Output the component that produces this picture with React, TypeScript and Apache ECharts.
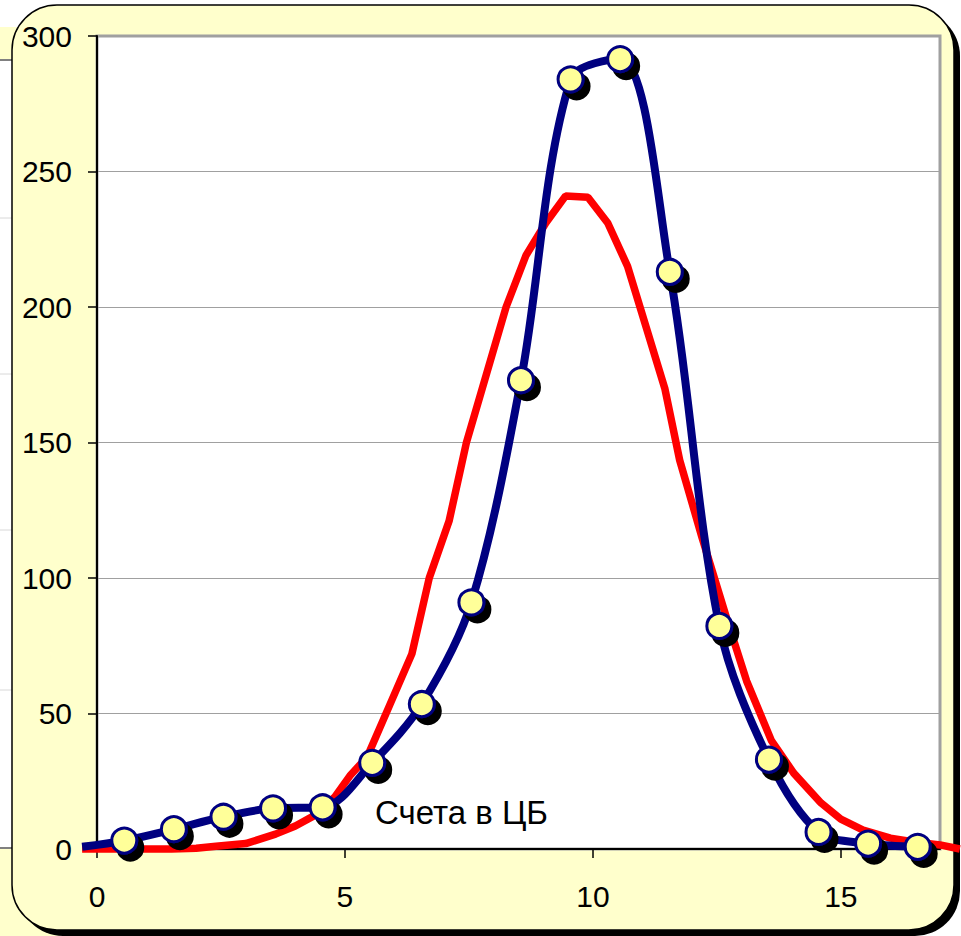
import React, { useEffect, useRef } from "react";
import * as echarts from "echarts";

// Blue series (observed), x positions of markers and values
const blueX = [-0.3, 0.55, 1.55, 2.55, 3.55, 4.55, 5.55, 6.55, 7.55, 8.55, 9.55, 10.55, 11.55, 12.55, 13.55, 14.55, 15.55, 16.55];
const blueY = [0.8, 3.1, 7.3, 11.9, 15.0, 15.4, 31.8, 53.5, 91.0, 173.0, 284.0, 291.5, 213.0, 82.3, 33.0, 6.3, 2.0, 0.8];

// Red series (fitted curve)
const redX = [-0.3, 0.5, 1.5, 2.0, 2.4, 3.0, 3.6, 4.0, 4.4, 4.8, 5.1, 5.45, 5.9, 6.35, 6.7, 7.1, 7.45, 7.85, 8.25, 8.65, 9.05, 9.45, 9.9, 10.3, 10.7, 11.1, 11.45, 11.75, 12.2, 12.7, 13.1, 13.6, 14.05, 14.6, 15.0, 15.45, 16.0, 16.45, 17.0, 17.4];
const redY = [0, 0, 0, 0.3, 1.0, 2.0, 5.5, 8.5, 12.5, 19.3, 27, 34, 53, 72, 100, 121, 150, 175, 200, 219, 231, 241, 240.5, 231, 215, 191, 170, 143.5, 115, 85, 62, 40, 28, 17, 11, 7, 4, 2.7, 1.5, 0];

const xTicks = [0, 5, 10, 15];
const annotation = "Счета в ЦБ";

const FONT = "'Liberation Sans', Arial, sans-serif";

// axis extents
const X_MIN = 0;
const X_MAX = 17;
const X_MIN_EXT = -0.3; // lines run slightly past the plot edges
const X_MAX_EXT = 17.4;

// layout
const W = 961;
const PLOT_L = 97;
const PLOT_R = 940;
const PLOT_T = 36;
const PLOT_B = 849;

export default function App() {
  const ref = useRef<HTMLDivElement>(null);
  useEffect(() => {
    if (!ref.current) return;
    const chart = echarts.init(ref.current, null, { renderer: "svg" });
    const pxPerUnit = (PLOT_R - PLOT_L) / (X_MAX - X_MIN);
    const extLeft = PLOT_L - (X_MIN - X_MIN_EXT) * pxPerUnit;
    const extRight = PLOT_R + (X_MAX_EXT - X_MAX) * pxPerUnit;

    const blueData = blueX.map((x, i) =>
      i === 0 ? { value: [x, blueY[i]], symbol: "none" } : { value: [x, blueY[i]] }
    );
    const redData = redX.map((x, i) => [x, redY[i]]);
    chart.setOption({
      animation: false,
      backgroundColor: "#ffffff",
      textStyle: { fontFamily: FONT },
      graphic: [
        // remnants of the underlying slide at the far left
        { type: "rect", z: -30, shape: { x: 0, y: 27, width: 60, height: 33 }, style: { fill: "#FFFFCC" } },
        { type: "line", z: -29, shape: { x1: 0, y1: 60, x2: 60, y2: 60 }, style: { stroke: "#808080", lineWidth: 2 } },
        { type: "line", z: -29, shape: { x1: 0, y1: 218, x2: 60, y2: 218 }, style: { stroke: "#d8d8d8", lineWidth: 1 } },
        { type: "line", z: -29, shape: { x1: 0, y1: 374, x2: 60, y2: 374 }, style: { stroke: "#d8d8d8", lineWidth: 1 } },
        { type: "line", z: -29, shape: { x1: 0, y1: 530, x2: 60, y2: 530 }, style: { stroke: "#d8d8d8", lineWidth: 1 } },
        { type: "line", z: -29, shape: { x1: 0, y1: 690, x2: 60, y2: 690 }, style: { stroke: "#d8d8d8", lineWidth: 1 } },
        { type: "rect", z: -30, shape: { x: 0, y: 848, width: 60, height: 88 }, style: { fill: "#FFFFCC" } },
        { type: "line", z: -29, shape: { x1: 0, y1: 848, x2: 60, y2: 848 }, style: { stroke: "#808080", lineWidth: 2 } },
        // main rounded panel with shadow
        { type: "rect", z: -20, shape: { x: 18, y: 11, width: 942, height: 925, r: 45 }, style: { fill: "#000000" } },
        { type: "rect", z: -19, shape: { x: 12, y: 5, width: 942, height: 925, r: 45 }, style: { fill: "#FFFFCC", stroke: "#000000", lineWidth: 1.5 } },
        {
          type: "text",
          z: 100,
          x: 375,
          y: 812,
          style: { text: annotation, fill: "#000000", font: `33px ${FONT}`, verticalAlign: "middle", align: "left" },
        },
      ],
      grid: [
        {
          left: PLOT_L,
          top: PLOT_T,
          width: PLOT_R - PLOT_L,
          height: PLOT_B - PLOT_T,
          show: true,
          backgroundColor: "#ffffff",
          borderColor: "#a0a0a0",
          borderWidth: 3,
        },
        {
          left: extLeft,
          top: PLOT_T,
          width: extRight - extLeft,
          height: PLOT_B - PLOT_T,
          show: false,
        },
      ],
      xAxis: [
        {
          gridIndex: 0,
          type: "value",
          min: X_MIN,
          max: X_MAX,
          interval: 5,
          axisLine: { show: true, onZero: false, lineStyle: { color: "#000", width: 2 } },
          axisTick: { show: true, length: 9, lineStyle: { color: "#000", width: 1.5 }, customValues: xTicks },
          axisLabel: { color: "#000", fontSize: 30, fontFamily: FONT, margin: 32, customValues: xTicks },
          splitLine: { show: false },
        },
        {
          gridIndex: 1,
          type: "value",
          min: X_MIN_EXT,
          max: X_MAX_EXT,
          show: false,
          splitLine: { show: false },
        },
      ],
      yAxis: [
        {
          gridIndex: 0,
          type: "value",
          min: 0,
          max: 300,
          interval: 50,
          axisLine: { show: true, lineStyle: { color: "#000", width: 2 } },
          axisTick: { show: true, length: 9, lineStyle: { color: "#000", width: 1.5 } },
          axisLabel: { color: "#000", fontSize: 30, fontFamily: FONT, margin: 25 },
          splitLine: { show: true, lineStyle: { color: "#a0a0a0", width: 1 } },
        },
        {
          gridIndex: 1,
          type: "value",
          min: 0,
          max: 300,
          interval: 50,
          show: false,
          splitLine: { show: false },
        },
      ],
      series: [
        {
          type: "line",
          xAxisIndex: 1,
          yAxisIndex: 1,
          data: redData,
          clip: false,
          smooth: false,
          symbol: "none",
          lineStyle: { color: "#FF0000", width: 7.5 },
          z: 3,
        },
        {
          type: "line",
          xAxisIndex: 1,
          yAxisIndex: 1,
          data: blueData,
          clip: false,
          smooth: 0.33,
          symbol: "circle",
          symbolSize: 25,
          showAllSymbol: true,
          lineStyle: { color: "#000080", width: 8 },
          itemStyle: {
            color: "#FFFF99",
            borderColor: "#000080",
            borderWidth: 3,
            shadowColor: "#000000",
            shadowBlur: 0,
            shadowOffsetX: 6,
            shadowOffsetY: 7,
          },
          z: 4,
        },
      ],
    });
    return () => chart.dispose();
  }, []);
  return (
    <div
      ref={ref}
      style={{ position: "absolute", left: 0, top: 0, width: W, height: 936 }}
    />
  );
}
